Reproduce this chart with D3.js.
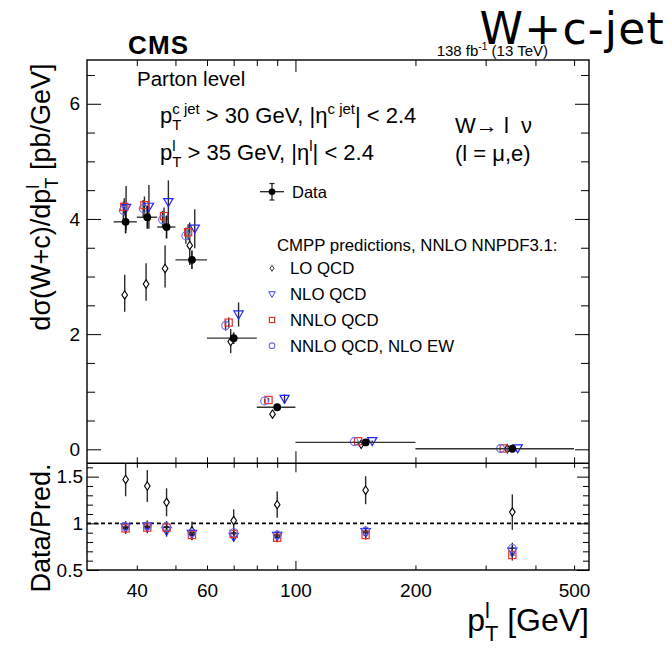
<!DOCTYPE html>
<html><head><meta charset="utf-8">
<script src="https://cdn.jsdelivr.net/npm/d3@7"></script>
<style>body{margin:0;background:#fff} text{font-family:"Liberation Sans",Arial,Helvetica,sans-serif;fill:#000}</style>
</head><body><svg id="c" width="672" height="648"></svg>
<script>
// ---------------- data ----------------
const binLo = [35, 40, 45, 50, 60, 80, 100, 200];
const binHi = [40, 45, 50, 60, 80, 100, 200, 500];
const binCenter = [37.5, 42.5, 47.5, 55, 70, 90, 150, 350];

const dataY   = [3.95, 4.03, 3.86, 3.29, 1.93, 0.73, 0.12, 0.01];
const dataErr = [0.20, 0.20, 0.20, 0.16, 0.10, 0.045, 0.01, 0.002];

// predictions (main panel), with the small horizontal offsets used in the plot
const loX   = [37.3, 42.2, 47.1, 54.3, 68.8, 87.6, 146.2, 340];
const loY   = [2.68, 2.87, 3.14, 3.54, 1.87, 0.61, 0.088, 0.009];
const loUp  = [0.35, 0.36, 0.40, 0.40, 0.22, 0.07, 0.011, 0.0015];
const loDn  = [0.29, 0.29, 0.33, 0.34, 0.20, 0.065, 0.010, 0.0013];

const nloX  = [37.6, 42.9, 48.0, 55.9, 72.0, 93.9, 155.8, 361];
const nloY  = [4.19, 4.21, 4.29, 3.83, 2.34, 0.875, 0.14, 0.015];
const nloErr= [0.38, 0.38, 0.38, 0.34, 0.21, 0.08, 0.013, 0.0015];

const nnloX  = [37.2, 41.8, 46.8, 53.8, 68.0, 85.6, 143.7, 333];
const nnloY  = [4.21, 4.24, 4.05, 3.77, 2.20, 0.857, 0.14, 0.015];
const nnloErr= [0.15, 0.15, 0.15, 0.14, 0.09, 0.035, 0.006, 0.001];

const ewX   = [37.0, 41.5, 46.4, 53.1, 66.8, 83.7, 140.4, 327];
const ewY   = [4.15, 4.18, 3.99, 3.71, 2.15, 0.84, 0.135, 0.014];
const ewErr = [0.15, 0.15, 0.15, 0.14, 0.09, 0.035, 0.006, 0.001];

// ratio panel Data/Pred.
const rLO    = [1.47, 1.40, 1.225, 0.92, 1.03, 1.20, 1.355, 1.12];
const rLOErr = [0.18, 0.17, 0.15, 0.10, 0.12, 0.14, 0.15, 0.19];
const rNLO   = [0.955, 0.965, 0.918, 0.886, 0.855, 0.864, 0.904, 0.696];
const rNNLO  = [0.946, 0.954, 0.954, 0.875, 0.886, 0.846, 0.875, 0.661];
const rEW    = [0.964, 0.971, 0.964, 0.900, 0.900, 0.875, 0.918, 0.732];
const rErr   = [0.06, 0.06, 0.06, 0.05, 0.05, 0.05, 0.05, 0.06];

// axis ticks
const xLabelTicks = [40, 60, 100, 200, 500];
const xMajorTicks = [100];
const xMinorTicks = [40, 50, 60, 70, 80, 90, 200, 300, 400, 500];
const yMainLabels = [0, 2, 4, 6];
const yMainMinor  = [0.5, 1, 1.5, 2.5, 3, 3.5, 4.5, 5, 5.5, 6.5];
const yRatioLabels = [0.5, 1, 1.5];
const yRatioMinor  = [0.6, 0.7, 0.8, 0.9, 1.1, 1.2, 1.3, 1.4, 1.6];

// ---------------- layout ----------------
const W = 672, H = 648;
const L = 87, R = 589, T = 60, MB = 463.3, RB = 570;
const svg = d3.select('#c');
svg.append('rect').attr('width', W).attr('height', H).attr('fill', '#fff');

const x  = d3.scaleLog().domain([30, 545]).range([L, R]);
const y  = d3.scaleLinear().domain([-0.243, 6.76]).range([MB, T]);
const yr = d3.scaleLinear().domain([0.5, 1.643]).range([RB, MB]);

const COL = {lo: '#000', nlo: '#2323ff', nnlo: '#e8302c', ew: '#6a6ae6', err: '#2a2a2a'};

function axisG(axis, tx, ty) {
  const g = svg.append('g').attr('transform', `translate(${tx},${ty})`).call(axis);
  g.select('.domain').remove();
  g.selectAll('line').attr('stroke', '#000').attr('stroke-width', 1);
  return g;
}
const blank = () => '';
const FONT = 'Liberation Sans, Arial, sans-serif';
// main panel ticks
axisG(d3.axisLeft(y).tickValues(yMainLabels).tickSize(-14).tickPadding(7).tickFormat(d3.format('d')), L, 0)
  .selectAll('text').attr('font-size', 19).attr('font-family', FONT);
axisG(d3.axisLeft(y).tickValues(yMainMinor).tickSize(-8).tickFormat(blank), L, 0);
axisG(d3.axisRight(y).tickValues(yMainLabels).tickSize(-14).tickFormat(blank), R, 0);
axisG(d3.axisRight(y).tickValues(yMainMinor).tickSize(-8).tickFormat(blank), R, 0);
axisG(d3.axisTop(x).tickValues(xMajorTicks).tickSize(-12).tickFormat(blank), 0, T);
axisG(d3.axisTop(x).tickValues(xMinorTicks).tickSize(-6).tickFormat(blank), 0, T);
axisG(d3.axisBottom(x).tickValues(xMajorTicks).tickSize(-12).tickFormat(blank), 0, MB);
axisG(d3.axisBottom(x).tickValues(xMinorTicks).tickSize(-6).tickFormat(blank), 0, MB);
// ratio panel ticks
axisG(d3.axisLeft(yr).tickValues(yRatioLabels).tickSize(-12).tickPadding(4).tickFormat(d => d3.format('~g')(d)), L, 0)
  .selectAll('text').attr('font-size', 19).attr('font-family', FONT);
axisG(d3.axisLeft(yr).tickValues(yRatioMinor).tickSize(-6).tickFormat(blank), L, 0);
axisG(d3.axisRight(yr).tickValues(yRatioLabels).tickSize(-12).tickFormat(blank), R, 0);
axisG(d3.axisRight(yr).tickValues(yRatioMinor).tickSize(-6).tickFormat(blank), R, 0);
axisG(d3.axisTop(x).tickValues(xMajorTicks).tickSize(-9).tickFormat(blank), 0, MB);
axisG(d3.axisTop(x).tickValues(xMinorTicks).tickSize(-4.5).tickFormat(blank), 0, MB);
axisG(d3.axisBottom(x).tickValues(xMajorTicks).tickSize(-9).tickFormat(blank), 0, RB);
axisG(d3.axisBottom(x).tickValues(xMinorTicks).tickSize(-4.5).tickFormat(blank), 0, RB);
axisG(d3.axisBottom(x).tickValues(xLabelTicks).tickSize(0).tickPadding(14).tickFormat(d3.format('d')), 0, RB)
  .selectAll('text').attr('font-size', 19).attr('font-family', FONT);

// frames
svg.append('rect').attr('x', L).attr('y', T).attr('width', R - L).attr('height', RB - T)
  .attr('fill', 'none').attr('stroke', '#000').attr('stroke-width', 1.4);
svg.append('line').attr('x1', L).attr('x2', R).attr('y1', MB).attr('y2', MB)
  .attr('stroke', '#000').attr('stroke-width', 1.6);
// dashed line at 1
svg.append('line').attr('x1', L).attr('x2', R).attr('y1', yr(1)).attr('y2', yr(1))
  .attr('stroke', '#000').attr('stroke-width', 1.8).attr('stroke-dasharray', '4,3');

// ---------------- markers ----------------
const diamond = 'M0,-4.2L2.8,0L0,4.2L-2.8,0Z';
const triDown = 'M-4.6,-3.6L4.6,-3.6L0,4.4Z';
function marker(g, type, cx, cy, s = 1) {
  if (type === 'lo') g.append('path').attr('d', diamond).attr('transform', `translate(${cx},${cy}) scale(${s})`)
      .attr('fill', '#fff').attr('stroke', COL.lo).attr('stroke-width', 1.1);
  else if (type === 'nlo') g.append('path').attr('d', triDown).attr('transform', `translate(${cx},${cy}) scale(${s})`)
      .attr('fill', 'none').attr('stroke', COL.nlo).attr('stroke-width', 1.2);
  else if (type === 'nnlo') g.append('rect').attr('x', cx - 3.6 * s).attr('y', cy - 3.6 * s).attr('width', 7.2 * s).attr('height', 7.2 * s)
      .attr('fill', 'none').attr('stroke', COL.nnlo).attr('stroke-width', 1.2);
  else if (type === 'ew') g.append('circle').attr('cx', cx).attr('cy', cy).attr('r', 3.9 * s)
      .attr('fill', 'none').attr('stroke', COL.ew).attr('stroke-width', 1.1);
  else if (type === 'data') g.append('circle').attr('cx', cx).attr('cy', cy).attr('r', 3.9 * s).attr('fill', '#000');
}
function vline(g, xx, y1, y2, col = COL.err, w = 1.4) {
  g.append('line').attr('x1', xx).attr('x2', xx).attr('y1', y1).attr('y2', y2).attr('stroke', col).attr('stroke-width', w);
}
function hline(g, x1, x2, yy, col = COL.err, w = 1.2) {
  g.append('line').attr('x1', x1).attr('x2', x2).attr('y1', yy).attr('y2', yy).attr('stroke', col).attr('stroke-width', w);
}

// main panel
const gm = svg.append('g');
const mainSeries = [
  {type: 'lo',   xs: loX,   ys: loY,   up: loUp,   dn: loDn},
  {type: 'nlo',  xs: nloX,  ys: nloY,  up: nloErr, dn: nloErr},
  {type: 'nnlo', xs: nnloX, ys: nnloY, up: nnloErr, dn: nnloErr},
  {type: 'ew',   xs: ewX,   ys: ewY,   up: ewErr,  dn: ewErr}
];
mainSeries.forEach(s => s.ys.forEach((v, i) => vline(gm, x(s.xs[i]), y(v + s.up[i]), y(v - s.dn[i]))));
mainSeries.forEach(s => s.ys.forEach((v, i) => marker(gm, s.type, x(s.xs[i]), y(v))));
dataY.forEach((v, i) => {
  hline(gm, x(binLo[i]), x(binHi[i]), y(v), '#333', 1.4);
  vline(gm, x(binCenter[i]), y(v + dataErr[i]), y(v - dataErr[i]), '#111', 1.6);
  marker(gm, 'data', x(binCenter[i]), y(v));
});

// ratio panel
const gr = svg.append('g');
const ratioSeries = [
  {type: 'lo', v: rLO, e: rLOErr}, {type: 'nlo', v: rNLO, e: rErr},
  {type: 'nnlo', v: rNNLO, e: rErr}, {type: 'ew', v: rEW, e: rErr}
];
ratioSeries.forEach(s => s.v.forEach((v, i) => vline(gr, x(binCenter[i]), yr(Math.min(v + s.e[i], 1.643)), yr(v - s.e[i]))));
ratioSeries.forEach(s => s.v.forEach((v, i) => {
  marker(gr, s.type, x(binCenter[i]), yr(v));
  if (s.type !== 'lo') hline(gr, x(binCenter[i]) - 2.5, x(binCenter[i]) + 2.5, yr(v), '#222', 1);
}));

// ---------------- rich text helper ----------------
function rich(parent, x0, y0, segs, size, anchor = 'start', rot = 0, weight = 'normal', ls = 0) {
  const outer = parent.append('g').attr('transform', `translate(${x0},${y0}) rotate(${rot})`);
  const g = outer.append('g');
  let cx = 0, prevStart = 0, prevEnd = 0, prevType = 'n';
  segs.forEach(([txt, type = 'n']) => {
    const fs = type === 'n' ? size : size * 0.68;
    const dy = type === 'sup' ? -size * 0.42 : type === 'sub' ? size * 0.30 : 0;
    const stack = (type === 'sub' && prevType === 'sup') || (type === 'sup' && prevType === 'sub');
    const sx = stack ? prevStart : cx;
    const t = g.append('text').attr('x', sx).attr('y', dy).attr('font-size', fs).attr('font-weight', weight)
      .attr('letter-spacing', ls).style('white-space', 'pre').attr('xml:space', 'preserve').text(txt);
    const w = t.node().getComputedTextLength();
    const end = stack ? Math.max(prevEnd, sx + w) : sx + w;
    prevStart = sx; prevEnd = end; prevType = type; cx = end;
  });
  const shift = anchor === 'end' ? -cx : anchor === 'middle' ? -cx / 2 : 0;
  g.attr('transform', `translate(${shift},0)`);
  return outer;
}

// header
rich(svg, 128, 54, [['CMS']], 26, 'start', 0, 'bold', 1.2);
rich(svg, 548, 56, [['138 fb'], ['-1', 'sup'], [' (13 TeV)']], 15, 'end');
svg.append('text').attr('x', 665).attr('y', 44).attr('text-anchor', 'end').attr('letter-spacing', 1.2)
  .style('font-family', 'DejaVu Sans, sans-serif').attr('font-size', 44).text('W+c-jet');

// descriptions
rich(svg, 137, 86, [['Parton level']], 20.5);
rich(svg, 160, 123, [['p'], ['c jet', 'sup'], ['T', 'sub'], [' > 30 GeV, |η'], ['c jet', 'sup'], ['| < 2.4']], 22);
rich(svg, 160, 160, [['p'], ['l', 'sup'], ['T', 'sub'], [' > 35 GeV, |η'], ['l', 'sup'], ['| < 2.4']], 22);
rich(svg, 455, 133, [['W→ l  ν']], 22);
rich(svg, 455, 161, [['(l = μ,e)']], 22);

// legend
const lg = svg.append('g');
const lx = 272;
hline(lg, lx - 12, lx + 12, 191.7, '#222', 1.3);
vline(lg, lx, 183.5, 200, '#222', 1.3);
hline(lg, lx - 2.5, lx + 2.5, 183.5, '#222', 1.2);
hline(lg, lx - 2.5, lx + 2.5, 200, '#222', 1.2);
marker(lg, 'data', lx, 191.7, 0.85);
rich(lg, 292, 197.5, [['Data']], 16.5);
rich(lg, 277, 251, [['CMPP predictions, NNLO NNPDF3.1:']], 16.8);
const legItems = [['lo', 'LO QCD', 268.3], ['nlo', 'NLO QCD', 294.3], ['nnlo', 'NNLO QCD', 320], ['ew', 'NNLO QCD, NLO EW', 345.7]];
legItems.forEach(([t, label, yy]) => {
  marker(lg, t, lx, yy, 0.72);
  rich(lg, 290, yy + 6, [[label]], 16.8);
});

// axis titles
rich(svg, 50, 197, [['dσ(W+c)/dp'], ['l', 'sup'], ['T', 'sub'], [' [pb/GeV]']], 27, 'middle', -90);
rich(svg, 50, 528, [['Data/Pred.']], 27, 'middle', -90);
rich(svg, 589, 631, [['p'], ['l', 'sup'], ['T', 'sub'], [' [GeV]']], 32, 'end');
</script></body></html>
